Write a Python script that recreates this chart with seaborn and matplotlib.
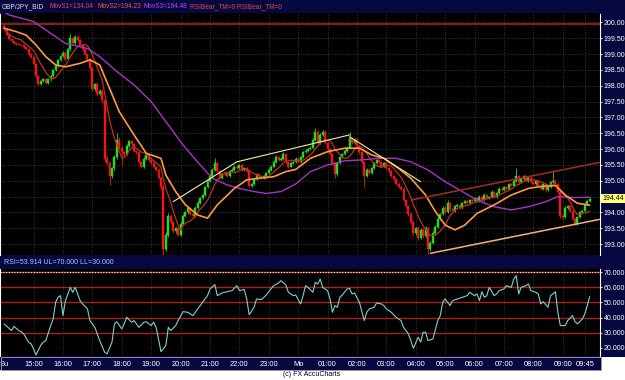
import numpy as np
import pandas as pd
import matplotlib
matplotlib.use("Agg")
import matplotlib.pyplot as plt
import seaborn as sns
from matplotlib.patches import Rectangle

# GBP/JPY 5-minute bars, Sunday 14:00 -> Monday 09:55 (bar index 0..239)
first_open = 199.90
closes = [
    199.80, 199.62, 199.48, 199.40, 199.35, 199.33, 199.30, 199.28, 199.22, 199.15, 199.00, 198.90,  # 14:00
    198.70, 198.30, 198.05, 198.15, 198.22, 198.10, 198.20, 198.30, 198.50, 198.62, 198.80, 198.95,  # 15:00
    199.05, 198.85, 199.15, 199.50, 199.35, 199.55, 199.45, 199.30, 199.15, 199.00, 198.85, 198.55,  # 16:00
    197.90, 198.05, 197.75, 197.85, 197.55, 195.70, 195.55, 195.15, 195.40, 195.75, 196.30, 196.05,  # 17:00
    195.90, 195.85, 196.10, 196.25, 196.15, 195.95, 195.90, 195.60, 195.45, 195.70, 195.80, 195.65,  # 18:00
    195.55, 195.45, 195.35, 195.10, 194.80, 192.85, 193.30, 193.90, 193.70, 193.40, 193.50, 193.30,  # 19:00
    193.65, 193.90, 194.00, 194.15, 193.95, 193.90, 194.15, 194.30, 194.45, 194.55, 194.80, 195.00,  # 20:00
    195.15, 195.35, 195.55, 195.30, 195.10, 195.20, 195.25, 195.15, 195.30, 195.35, 195.45, 195.40,  # 21:00
    195.50, 195.35, 195.40, 195.30, 194.85, 194.90, 195.05, 195.20, 195.15, 195.10, 195.15, 195.25,  # 22:00
    195.35, 195.45, 195.60, 195.75, 195.65, 195.70, 195.85, 195.60, 195.45, 195.55, 195.60, 195.70,  # 23:00
    195.60, 195.75, 195.90, 195.95, 196.00, 196.05, 196.30, 196.55, 196.20, 196.45, 196.55, 196.20,  # 00:00
    196.00, 195.85, 195.55, 195.20, 195.55, 195.75, 195.85, 195.95, 196.05, 196.35, 196.20, 196.30,  # 01:00
    196.10, 195.90, 195.60, 195.15, 195.35, 195.25, 195.40, 195.55, 195.65, 195.60, 195.45, 195.55,  # 02:00
    195.40, 195.30, 195.15, 195.05, 194.90, 194.80, 194.75, 194.40, 194.20, 193.95, 193.70, 193.35,  # 03:00
    193.50, 193.20, 193.45, 193.25, 193.50, 192.85, 193.05, 193.35, 193.55, 193.80, 193.95, 194.15,  # 04:00
    194.00, 194.30, 194.10, 194.05, 194.20, 194.25, 194.15, 194.30, 194.35, 194.30, 194.40, 194.35,  # 05:00
    194.45, 194.35, 194.50, 194.40, 194.55, 194.45, 194.50, 194.65, 194.50, 194.60, 194.75, 194.70,  # 06:00
    194.80, 194.75, 194.90, 194.85, 195.00, 195.15, 194.95, 195.05, 195.15, 195.00, 195.10, 194.95,  # 07:00
    194.90, 195.00, 194.85, 194.75, 194.90, 194.70, 194.80, 194.95, 195.00, 194.90, 194.65, 193.90,  # 08:00
    193.85, 194.15, 194.20, 194.05, 193.80, 193.65, 193.85, 194.00, 194.05, 194.25, 194.35, 194.44,  # 09:00
]
# wick lengths in pips above / below the body
wick_up = [
    5, 3, 3, 2, 2, 3, 2, 2, 3, 2, 3, 3,
    3, 3, 3, 4, 3, 3, 4, 3, 4, 3, 4, 3,
    4, 5, 3, 15, 4, 6, 4, 3, 3, 3, 3, 4,
    6, 4, 6, 5, 6, 8, 10, 6, 5, 6, 20, 8,
    4, 5, 6, 5, 4, 4, 3, 4, 3, 5, 4, 3,
    3, 4, 3, 4, 6, 10, 8, 8, 5, 4, 5, 4,
    4, 5, 4, 4, 3, 3, 4, 5, 4, 4, 5, 6,
    5, 6, 17, 4, 3, 4, 4, 3, 5, 4, 5, 4,
    4, 3, 4, 3, 6, 4, 5, 4, 3, 3, 4, 4,
    4, 4, 5, 6, 4, 5, 7, 4, 3, 4, 4, 4,
    4, 4, 5, 4, 4, 5, 6, 11, 4, 5, 7, 4,
    4, 3, 3, 4, 5, 4, 4, 4, 5, 20, 4, 5,
    4, 3, 4, 4, 5, 4, 4, 4, 4, 3, 4, 3,
    3, 3, 3, 3, 3, 3, 3, 4, 4, 4, 5, 5,
    5, 6, 5, 5, 6, 5, 4, 5, 4, 5, 4, 5,
    4, 10, 4, 4, 4, 3, 3, 4, 3, 3, 3, 3,
    3, 3, 4, 3, 5, 3, 3, 5, 3, 4, 4, 3,
    4, 3, 4, 3, 5, 24, 4, 4, 4, 4, 5, 4,
    3, 4, 3, 3, 4, 3, 4, 5, 34, 5, 4, 5,
    5, 4, 4, 4, 4, 4, 5, 4, 4, 5, 4, 4,
]
wick_dn = [
    3, 3, 3, 2, 2, 3, 2, 2, 3, 3, 3, 3,
    4, 4, 7, 4, 4, 4, 3, 4, 3, 3, 4, 3,
    4, 6, 4, 4, 5, 4, 4, 4, 4, 4, 5, 6,
    6, 5, 8, 5, 8, 10, 6, 28, 6, 5, 5, 5,
    40, 6, 5, 4, 4, 5, 4, 5, 6, 4, 4, 4,
    3, 4, 4, 4, 5, 19, 6, 6, 5, 5, 4, 4,
    4, 4, 3, 4, 4, 3, 4, 3, 4, 3, 3, 3,
    3, 3, 3, 4, 4, 3, 3, 3, 3, 3, 3, 3,
    3, 3, 3, 3, 5, 4, 3, 3, 3, 3, 3, 3,
    3, 3, 3, 3, 3, 3, 3, 4, 4, 3, 3, 3,
    3, 3, 3, 3, 3, 3, 3, 3, 4, 3, 3, 4,
    4, 4, 5, 12, 4, 3, 3, 3, 3, 3, 4, 4,
    4, 4, 5, 35, 4, 4, 3, 3, 3, 3, 3, 3,
    3, 3, 3, 3, 3, 3, 3, 4, 4, 5, 5, 6,
    5, 6, 5, 6, 5, 15, 6, 5, 4, 4, 4, 4,
    4, 3, 4, 4, 3, 3, 3, 3, 3, 3, 3, 3,
    3, 3, 3, 3, 3, 3, 3, 3, 3, 3, 3, 3,
    3, 3, 3, 3, 3, 3, 4, 3, 3, 3, 3, 3,
    3, 3, 3, 4, 3, 4, 3, 3, 3, 4, 5, 8,
    5, 4, 4, 4, 5, 5, 4, 3, 3, 3, 3, 3,
]

# MovS2 (orange) and MovS3 (purple)
movs2_bar = [0, 5, 9, 13, 17, 21, 25, 31, 35, 39, 43, 47, 53, 58, 64, 66, 70, 74, 79, 83, 87, 94,
             99, 104, 110, 115, 119, 125, 132, 139, 145, 150, 155, 161, 166, 172, 176, 180, 184,
             188, 193, 200, 207, 214, 219, 225, 229, 234, 239]
movs2_val = [199.82, 199.71, 199.60, 199.29, 198.92, 198.66, 198.60, 198.71, 198.82, 198.66, 197.92,
             197.18, 196.45, 195.87, 195.71, 195.18, 194.66, 194.24, 193.92, 193.82, 194.24, 194.76,
             195.03, 195.08, 195.13, 195.29, 195.36, 195.71, 195.92, 196.03, 196.03, 195.82, 195.71,
             195.39, 195.08, 194.55, 194.03, 193.60, 193.45, 193.60, 193.97, 194.24, 194.55, 194.76,
             194.82, 194.85, 194.55, 194.29, 194.23]
movs3_bar = [0, 2, 12, 25, 34, 39, 46, 53, 60, 66, 73, 80, 85, 91, 96, 102, 107, 113, 119, 125, 132,
             139, 146, 153, 160, 166, 173, 180, 187, 193, 200, 207, 214, 221, 226, 233, 239]
movs3_val = [200.34, 200.24, 200.03, 199.34, 199.18, 198.92, 198.45, 198.03, 197.50, 196.87, 196.13,
             195.50, 195.08, 194.87, 194.76, 194.66, 194.60, 194.66, 194.90, 195.29, 195.50, 195.63,
             195.66, 195.71, 195.71, 195.60, 195.34, 194.97, 194.66, 194.39, 194.18, 194.08, 194.18,
             194.34, 194.50, 194.47, 194.48]
movs1_len = 8

rsi_bar = [0, 2, 3, 4, 6, 7, 8, 10, 11, 12, 13, 15, 16, 17, 19, 20, 21, 22, 23, 24, 25, 27, 28, 29,
           31, 32, 34, 35, 37, 39, 41, 42, 44, 45, 46, 48, 49, 50, 52, 53, 55, 57, 58, 60, 61, 62,
           63, 64, 66, 67, 68, 70, 71, 73, 75, 77, 79, 80, 81, 83, 84, 86, 87, 89, 91, 93, 95, 96,
           98, 99, 100, 102, 103, 105, 107, 108, 110, 112, 113, 115, 116, 118, 119, 121, 122, 123,
           124, 126, 127, 128, 129, 130, 132, 133, 134, 135, 136, 137, 138, 140, 141, 142, 143, 145,
           146, 147, 148, 149, 151, 152, 154, 155, 156, 158, 160, 162, 163, 165, 166, 167, 169, 170,
           171, 172, 173, 175, 177, 178, 179, 180, 181, 182, 183, 185, 187, 189, 190, 192, 193, 194,
           195, 196, 197, 198, 200, 201, 202, 204, 205, 207, 208, 209, 210, 211, 213, 214, 215, 217,
           218, 219, 220, 222, 223, 224, 225, 226, 227, 229, 230, 232, 233, 234, 236, 237, 238, 239]
rsi_val = [35.8, 32.9, 31.4, 34.2, 31.4, 30.7, 29.2, 23.7, 22.6, 19.3, 15.3, 21.9, 23.7, 24.8, 34.7,
           39.1, 50.1, 53.4, 54.5, 41.3, 51.2, 60.0, 56.7, 60.0, 51.2, 49.0, 45.7, 38.0, 33.6, 24.8,
           17.1, 16.0, 23.7, 35.8, 37.3, 32.5, 35.8, 40.2, 36.9, 38.0, 33.6, 36.9, 37.3, 34.7, 36.9,
           33.6, 25.9, 17.5, 21.5, 33.6, 31.4, 34.7, 38.0, 43.9, 43.5, 41.3, 45.7, 47.9, 50.1, 54.5,
           58.9, 61.8, 54.5, 56.3, 57.1, 57.8, 61.1, 57.8, 58.5, 52.3, 41.9, 46.8, 52.3, 51.9, 54.9,
           57.1, 61.1, 62.9, 64.4, 61.5, 56.7, 54.5, 54.9, 49.0, 54.5, 61.1, 60.0, 56.7, 63.3, 62.2,
           65.5, 60.0, 57.8, 52.3, 43.5, 47.9, 46.8, 53.4, 54.9, 58.9, 59.3, 55.6, 56.3, 50.1, 43.9,
           38.0, 43.5, 45.7, 46.8, 49.6, 49.0, 47.9, 45.7, 43.5, 40.2, 38.0, 33.6, 29.2, 24.8, 19.7,
           27.0, 23.7, 30.3, 30.3, 24.8, 25.9, 38.0, 41.3, 50.1, 52.3, 50.1, 47.9, 51.2, 52.3, 53.4,
           54.5, 56.7, 54.5, 55.6, 51.2, 57.1, 53.4, 54.5, 60.0, 54.5, 55.6, 57.8, 58.9, 61.1, 60.0,
           65.5, 67.7, 55.6, 60.0, 61.1, 62.2, 57.8, 56.7, 55.6, 49.0, 50.5, 46.8, 54.5, 55.6, 57.1,
           43.5, 34.7, 34.7, 38.0, 41.3, 37.3, 35.8, 39.1, 42.4, 47.9, 53.9]

# drawn trend lines (bar, price)
bull_bar, bull_px = [69, 95, 141], [194.34, 195.60, 196.45]
bear_bar, bear_px = [141, 170], [196.39, 194.97]
support_bar, support_px = [174, 243], [192.71, 193.78]
channel_bar, channel_px = [166, 243], [194.39, 195.58]
resistance = 199.94

hour_bar = [0, 12, 24, 36, 48, 60, 72, 84, 96, 108, 120, 132, 144, 156, 168, 180, 192, 204, 216, 228, 237]
hour_lbl = ["Su", "15:00", "16:00", "17:00", "18:00", "19:00", "20:00", "21:00", "22:00", "23:00", "Mo",
            "01:00", "02:00", "03:00", "04:00", "05:00", "06:00", "07:00", "08:00", "09:00", "09:45"]
price_ticks = np.arange(193.0, 200.01, 0.5)
rsi_ticks = [20, 30, 40, 50, 60, 70]
rsi_levels = [30, 40, 50, 60]

sns.set_style("dark")
plt.rcParams["font.family"] = ["Liberation Sans", "DejaVu Sans"]

NAVY = "#080840"
GRID = "#4a4a4a"
W, H = 625, 380
FS = 5.0

fig = plt.figure(figsize=(W / 100, H / 100), dpi=100, facecolor=NAVY)
ax = fig.add_axes([0, 1 - 255 / H, 600 / W, 242 / H])
ax_rsi = fig.add_axes([0, 1 - 356 / H, 600 / W, 87 / H])

for a in (ax, ax_rsi):
    a.set_facecolor("black")
    a.set_xlim(-1.7, 243.2)
    for s in ("top", "bottom"):
        a.spines[s].set_visible(False)
    for s in ("left", "right"):
        a.spines[s].set_color("white")
        a.spines[s].set_linestyle((0, (1, 1)))
        a.spines[s].set_linewidth(0.8)
    a.yaxis.tick_right()
    a.tick_params(axis="y", colors="white", labelsize=FS, length=1.5, width=0.6, pad=1.0)
    a.grid(False)
    for xb in hour_bar[1:]:
        a.axvline(xb, color=GRID, lw=0.6, ls=(0, (1, 2)), zorder=0)

# ---- price panel ----
ax.set_ylim(192.656, 200.30)
ax.set_yticks(price_ticks)
ax.set_yticklabels([f"{v:.2f}" for v in price_ticks])
ax.set_xticks([])
for yv in price_ticks:
    ax.axhline(yv, color=GRID, lw=0.6, ls=(0, (1, 2)), zorder=0)

close = np.array(closes)
opn = np.r_[first_open, close[:-1]]
bars = np.arange(len(close))
high = np.maximum(opn, close) + np.array(wick_up) / 100
low = np.minimum(opn, close) - np.array(wick_dn) / 100
col = np.where(close > opn, "#22dc22", np.where(close < opn, "#ee1616", "#c8f0f0"))
ax.vlines(bars, low, high, colors=col, lw=0.6, zorder=3)
ax.bar(bars, close - opn, bottom=opn, width=0.8, color=col, edgecolor=col, lw=0.3, zorder=3)

ax.axhline(resistance, color="#b82222", lw=1.1, zorder=2)

movs1 = pd.Series(close).rolling(movs1_len, min_periods=1).mean()
sns.lineplot(x=bars, y=movs1.values, ax=ax, color="#c0301e", lw=0.9, zorder=4)
sns.lineplot(x=movs3_bar, y=movs3_val, ax=ax, color="#a634c8", lw=1.0, zorder=4)
sns.lineplot(x=movs2_bar, y=movs2_val, ax=ax, color="#ff9a3c", lw=1.2, zorder=5)

ax.plot(bull_bar, bull_px, color="#f0eea0", lw=0.8, zorder=6)
ax.plot(bear_bar, bear_px, color="#f0eea0", lw=0.8, zorder=6)
ax.plot(support_bar, support_px, color="#f8b27a", lw=1.1, zorder=6)
ax.plot(channel_bar, channel_px, color="#a82a26", lw=1.1, zorder=6)
ax.set_xlim(-1.7, 243.2)
ax.set_xlabel("")
ax.set_ylabel("")

ax.annotate(f"{closes[-1]:.2f}", xy=(1.0, closes[-1]), xycoords=("axes fraction", "data"),
            xytext=(1.6, 0), textcoords="offset points", ha="left", va="center",
            fontsize=FS, color="black", annotation_clip=False, zorder=10,
            bbox=dict(boxstyle="square,pad=0.2", fc="#ffff78", ec="none"))

# ---- RSI panel ----
ax_rsi.set_ylim(14.6, 72.1)
ax_rsi.set_yticks(rsi_ticks)
ax_rsi.set_yticklabels([f"{v:.3f}" for v in rsi_ticks])
for lv in rsi_levels:
    ax_rsi.axhline(lv, color="#a82020", lw=1.0, zorder=1)
ax_rsi.axhline(70, color="#a82020", lw=1.0, zorder=1)
ax_rsi.axhline(70, color="white", lw=0.8, ls=(0, (1, 1.5)), zorder=2)
sns.lineplot(x=rsi_bar, y=rsi_val, ax=ax_rsi, color="#7fd2cc", lw=0.8, zorder=4)
ax_rsi.set_xlim(-1.7, 243.2)
ax_rsi.set_xticks(hour_bar)
ax_rsi.set_xticklabels(hour_lbl)
ax_rsi.tick_params(axis="x", colors="white", labelsize=5.4, length=0, pad=3.4)
ax_rsi.set_xlabel("")
ax_rsi.set_ylabel("")

# ---- frame, bars and captions ----
fig.patches.append(Rectangle((0, 0), 1, 10 / H, transform=fig.transFigure, fc="white", ec="none"))
fig.patches.append(Rectangle((601 / W, 0), 24 / W, 23 / H, transform=fig.transFigure, fc="white", ec="none"))
fig.patches.append(Rectangle((0.5 / W, 10.5 / H), 600 / W, 12.5 / H, transform=fig.transFigure,
                             fc="none", ec="#9090b0", lw=0.7))

hdr_y = 1 - 6.5 / H
HFS = 4.7
fig.text(2 / W, hdr_y, "GBP/JPY_BID", color="#e8e8e8", fontsize=HFS, va="center")
fig.text(49 / W, hdr_y, "MovS1=134.04", color="#e04848", fontsize=HFS, va="center")
fig.text(97 / W, hdr_y, "MovS2=194.23", color="#e8583c", fontsize=HFS, va="center")
fig.text(144 / W, hdr_y, "MovS3=194.48", color="#b648f0", fontsize=HFS, va="center")
fig.text(190 / W, hdr_y, "RSIBear_TM=0 RSIBear_TM=0", color="#e04848", fontsize=HFS, va="center")
fig.text(4 / W, 1 - 262.5 / H, "RSI=53.914 UL=70.000 LL=30.000", color="#a8c8f8", fontsize=FS, va="center")
fig.text(312 / W, 5 / H, "(c) FX AccuCharts", color="black", fontsize=FS, ha="center", va="center")

fig.savefig("out.png", dpi=100, facecolor=NAVY)
